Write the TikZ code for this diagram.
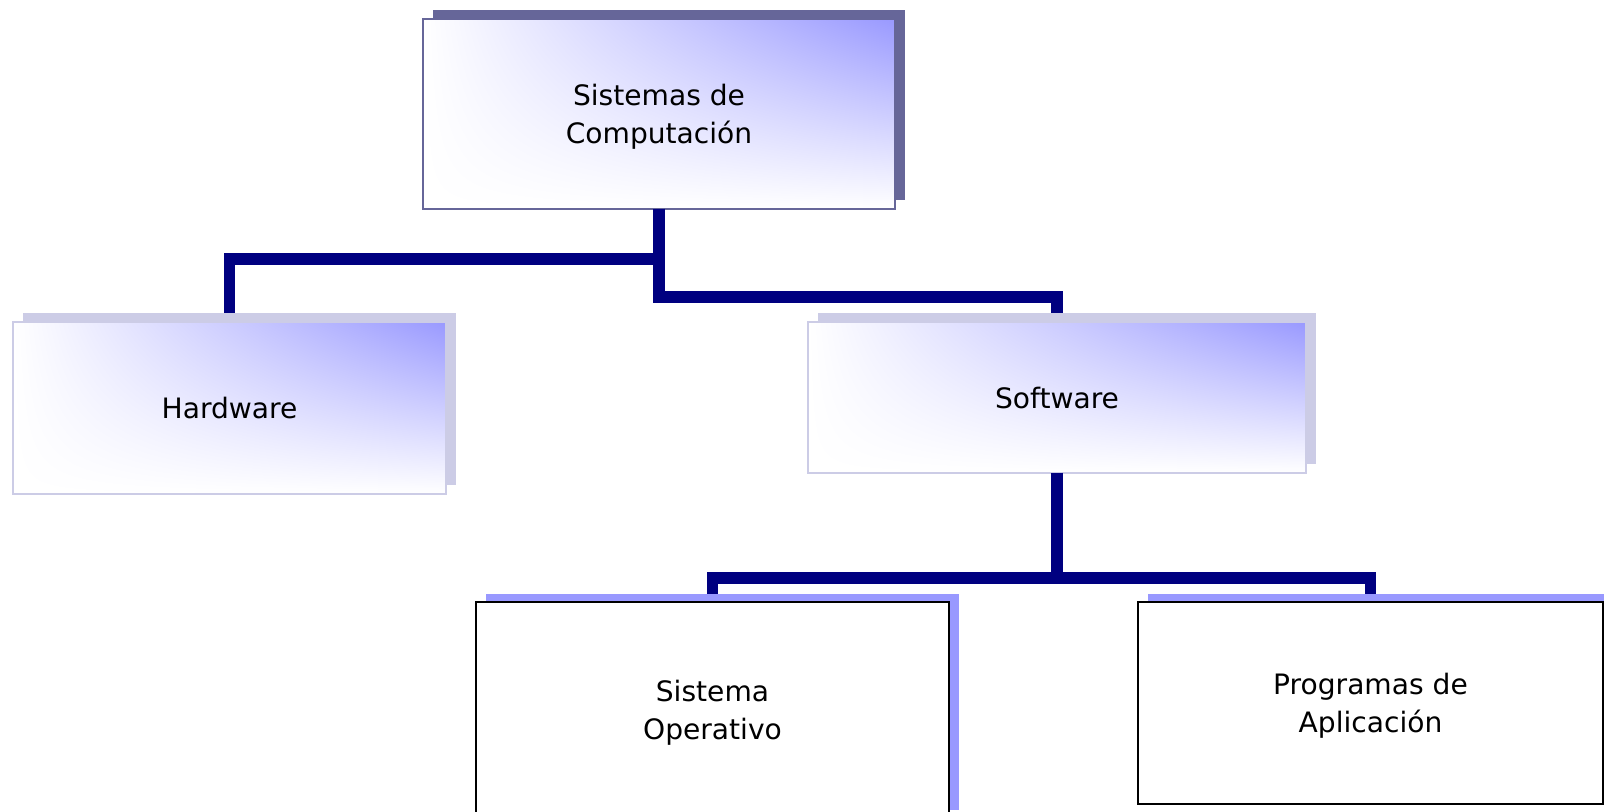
\documentclass[tikz,border=0pt]{standalone}
\usepackage{fontspec}
\setmainfont{DejaVu Sans}
\usetikzlibrary{shadows,shadings}

\definecolor{linknavy}{RGB}{0,0,128}
\definecolor{slateshadow}{RGB}{102,102,153}
\definecolor{paleshadow}{RGB}{204,204,230}
\definecolor{boxblue}{RGB}{153,153,255}

\begin{document}
\begin{tikzpicture}[x=0.02cm,y=-0.02cm,
        font=\fontsize{16}{21.6}\selectfont,
        box/.style={rectangle,align=center,outer sep=0pt,inner sep=0pt,text depth=-1pt},
        shaded box/.style={box,shade,upper left=white,upper right=boxblue,
            lower left=white,lower right=white,line width=0.8pt},
        top box/.style={shaded box,draw=slateshadow,
            general shadow={fill=slateshadow,shadow xshift=0.2cm,shadow yshift=0.18cm}},
        mid box/.style={shaded box,draw=paleshadow,
            general shadow={fill=paleshadow,shadow xshift=0.2cm,shadow yshift=0.18cm}},
        low box/.style={box,fill=white,draw=black,line width=1.1pt,
            general shadow={fill=boxblue,shadow xshift=0.2cm,shadow yshift=0.16cm}},
        link/.style={draw=linknavy,line width=6.8pt}]

    \useasboundingbox (0,0) rectangle (1604,811);
    \clip (0,0) rectangle (1604,811);

    \node[top box, minimum width=9.44cm, minimum height=3.8cm] (comp) at (659,114) {Sistemas de\\Computación};
    \node[mid box, minimum width=8.66cm, minimum height=3.44cm] (hw) at (229.5,408) {Hardware};
    \node[mid box, minimum width=9.96cm, minimum height=3.02cm] (sw) at (1057,397.5) {Software};
    \node[low box, minimum width=9.46cm, minimum height=4.32cm] (so) at (712.5,710) {Sistema\\Operativo};
    \node[low box, minimum width=9.3cm, minimum height=4.04cm] (apps) at (1370.5,703) {Programas de\\Aplicación};

    \draw[link, shorten >=0.18cm] (comp.south) -- ++(0,50) -| (hw.north);
    \draw[link, shorten >=0.18cm] (comp.south) -- ++(0,88) -| (sw.north);
    \draw[link, shorten >=0.16cm] (sw.south) -- ++(0,105) -| (so.north);
    \draw[link, shorten >=0.16cm] (sw.south) -- ++(0,105) -| (apps.north);

\end{tikzpicture}
\end{document}
